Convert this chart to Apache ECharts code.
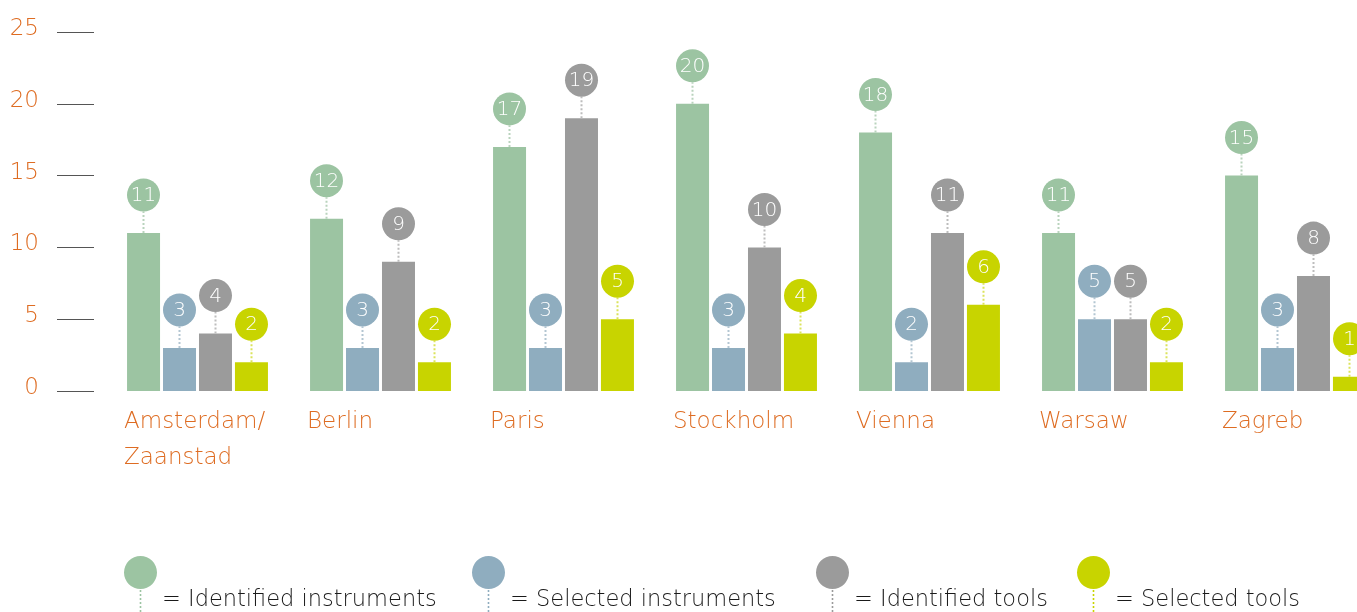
<!DOCTYPE html>
<html>
<head>
<meta charset="utf-8">
<script src="https://cdn.jsdelivr.net/npm/echarts@6/dist/echarts.min.js"></script>
<style>
  html, body { margin: 0; padding: 0; background: #fff; }
  #chart { width: 1357px; height: 612px; }
</style>
</head>
<body>
<div id="chart"></div>
<script>
// data
const cities = ['Amsterdam/\nZaanstad', 'Berlin', 'Paris', 'Stockholm', 'Vienna', 'Warsaw', 'Zagreb']
const seriesNames = ['Identified instruments', 'Selected instruments', 'Identified tools', 'Selected tools']
const identifiedInstruments = [11, 12, 17, 20, 18, 11, 15]
const selectedInstruments = [3, 3, 3, 3, 2, 5, 3]
const identifiedTools = [4, 9, 19, 10, 11, 5, 8]
const selectedTools = [2, 2, 5, 4, 6, 2, 1]
const yTicks = [0, 5, 10, 15, 20, 25]

const allValues = [identifiedInstruments, selectedInstruments, identifiedTools, selectedTools]
const colors = ['#9cc4a2', '#8fadbf', '#9b9b9b', '#c8d400']
const stemColors = ['#b9d3bd', '#b3c6d2', '#bdbdbd', '#dbe35c']
const legendLeft = [124, 472, 816, 1077]

const FONT = '"DejaVu Sans"'
const orange = '#de6c22'
const barW = 33
const step = 36

let myChart = echarts.init(document.getElementById('chart'))

// pin icon for the legend: circle + dotted stem
let pinPath = 'path://M0,16.5A16.5,16.5,0,1,1,33,16.5A16.5,16.5,0,1,1,0,16.5Z'
for (let y = 34; y < 88; y += 4) {
  pinPath += 'M15.7,' + y + 'L17.3,' + y + 'L17.3,' + (y + 2) + 'L15.7,' + (y + 2) + 'Z'
}

function pinRenderer(idx) {
  return function (params, api) {
    const p = api.coord([api.value(0), api.value(1)])
    const x = p[0] + (idx - 1.5) * step
    const top = p[1]
    const r = 16.5
    const cy = top - 38
    return {
      type: 'group',
      children: [
        {
          type: 'line',
          shape: { x1: x, y1: top, x2: x, y2: cy + r },
          style: { stroke: stemColors[idx], lineWidth: 2, lineDash: [2, 2] },
        },
        {
          type: 'circle',
          shape: { cx: x, cy: cy, r: r },
          style: { fill: colors[idx] },
        },
        {
          type: 'text',
          style: {
            text: String(api.value(1)),
            x: x,
            y: cy + 1,
            align: 'center',
            verticalAlign: 'middle',
            fill: '#fff',
            font: '300 20px ' + FONT,
          },
        },
      ],
    }
  }
}

const series = []
allValues.forEach((vals, i) => {
  series.push({
    name: seriesNames[i],
    type: 'bar',
    data: vals,
    barWidth: barW,
    barGap: '9%',
    itemStyle: { color: colors[i] },
    silent: true,
  })
})
allValues.forEach((vals, i) => {
  series.push({
    name: 'pin' + i,
    type: 'custom',
    data: vals.map((v, k) => [k, v]),
    renderItem: pinRenderer(i),
    z: 5,
    silent: true,
  })
})

myChart.setOption({
  animation: false,
  grid: [
    { left: 106, top: 32, width: 1281, height: 359, outerBoundsMode: 'none' },
    // shifted copy, only used to place the city names left-aligned under the bars
    { left: 32.5, top: 32, width: 1281, height: 359, outerBoundsMode: 'none' },
  ],
  xAxis: [
    {
      type: 'category',
      data: cities,
      gridIndex: 0,
      axisLine: { show: false },
      axisTick: { show: false },
      axisLabel: { show: false },
    },
    {
      type: 'category',
      data: cities,
      gridIndex: 1,
      axisLine: { show: false },
      axisTick: { show: false },
      axisLabel: {
        interval: 0,
        hideOverlap: false,
        align: 'left',
        margin: 13,
        color: orange,
        fontFamily: FONT,
        fontWeight: 200,
        fontSize: 23,
        lineHeight: 36,
      },
    },
  ],
  yAxis: [
    {
      type: 'value',
      min: yTicks[0],
      max: yTicks[yTicks.length - 1],
      interval: 5,
      offset: 12,
      splitLine: { show: false },
      axisLine: { show: false },
      axisTick: { show: true, length: 37, lineStyle: { color: '#555', width: 1 } },
      axisLabel: {
        margin: 55,
        color: orange,
        fontFamily: FONT,
        fontWeight: 200,
        fontSize: 23,
        verticalAlign: 'bottom',
        lineHeight: 6,
      },
    },
    {
      type: 'value',
      gridIndex: 1,
      show: false,
      min: 0,
      max: 25,
    },
  ],
  legend: seriesNames.map((n, i) => ({
    data: [n],
    left: legendLeft[i],
    top: 556,
    padding: 0,
    itemWidth: 33,
    itemHeight: 88,
    icon: pinPath,
    selectedMode: false,
    formatter: '= {name}',
    textStyle: { color: '#1a1a1a', fontFamily: FONT, fontWeight: 200, fontSize: 22.5 },
  })),
  series: series,
})
</script>
</body>
</html>
